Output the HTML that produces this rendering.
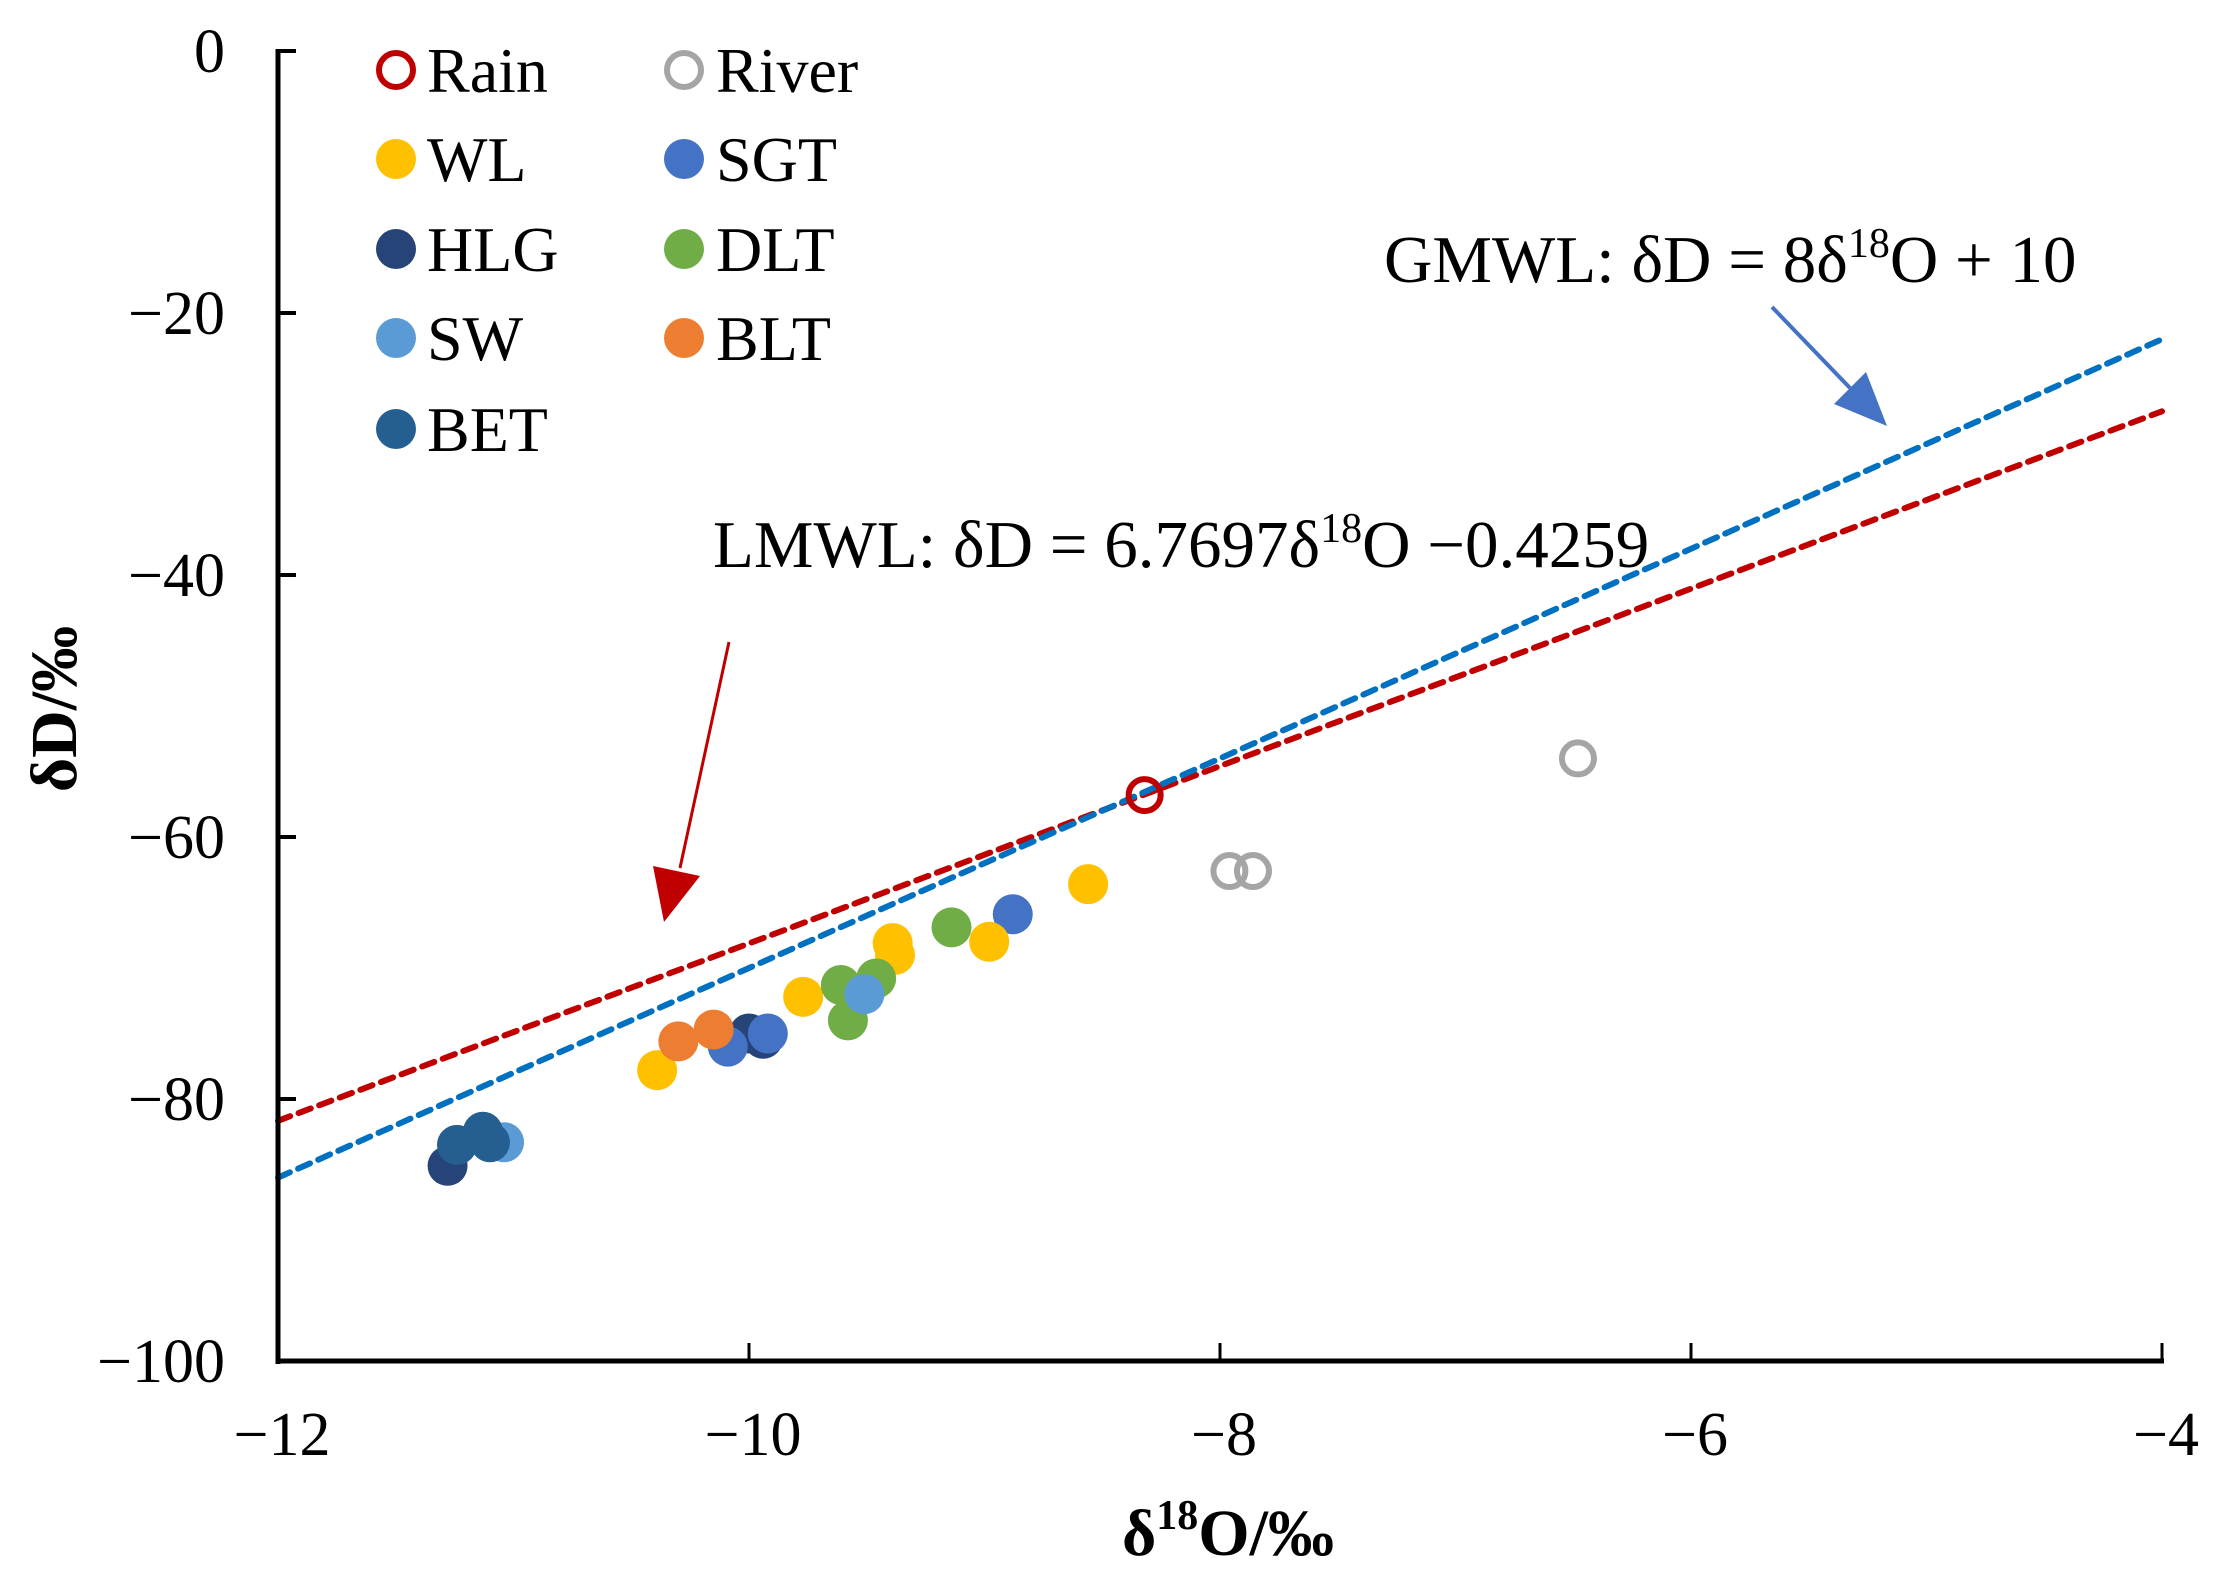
<!DOCTYPE html>
<html><head><meta charset="utf-8"><style>
html,body{margin:0;padding:0;background:#fff;}
svg{display:block;font-family:"Liberation Serif","Times New Roman",serif;}
</style></head><body>
<svg id="chart" width="2226" height="1584" viewBox="0 0 2226 1584" xmlns="http://www.w3.org/2000/svg"></svg>
<script>
const xTicks = [-12, -10, -8, -6, -4];
const yTicks = [0, -20, -40, -60, -80, -100];
const rainX = [-8.32];
const rainY = [-56.8];
const riverX = [-6.48, -7.96, -7.86];
const riverY = [-54.0, -62.6, -62.6];
const wlX = [-8.56, -9.39, -9.38, -8.98, -9.77, -10.39];
const wlY = [-63.6, -68.1, -69.0, -68.0, -72.2, -77.8];
const sgtX = [-8.88, -10.09, -9.92];
const sgtY = [-65.9, -76.0, -75.0];
const dltX = [-9.14, -9.61, -9.46, -9.58];
const dltY = [-66.9, -71.3, -70.8, -74.0];
const blt_X = [-10.30, -10.15];
const blt_Y = [-75.6, -74.7];
const hlgX = [-10.00, -9.94, -11.28];
const hlgY = [-75.0, -75.4, -85.1];
const swX = [-9.51, -11.04];
const swY = [-72.0, -83.3];
const betX = [-11.24, -11.13, -11.10];
const betY = [-83.5, -82.5, -83.3];
const lmwlSlope = 6.7697, lmwlIntercept = -0.4259;
const gmwlSlope = 8, gmwlIntercept = 10;

const NS = "http://www.w3.org/2000/svg";
const svg = document.getElementById('chart');
const X0 = 278, X1 = 2162, Y0 = 51, Y1 = 1361;
const xMin = -12, xMax = -4, yMin = -100, yMax = 0;
function sx(v){ return X0 + (v - xMin) / (xMax - xMin) * (X1 - X0); }
function sy(v){ return Y1 - (v - yMin) / (yMax - yMin) * (Y1 - Y0); }
function mk(tag, attrs, parent){
  const e = document.createElementNS(NS, tag);
  for (const k in attrs) e.setAttribute(k, attrs[k]);
  (parent || svg).appendChild(e);
  return e;
}
function fmt(v){ return v < 0 ? '\u2212' + Math.abs(v) : String(v); }

const lines = [[lmwlSlope, lmwlIntercept, '#c00000', 'lmwl-line'], [gmwlSlope, gmwlIntercept, '#0070c0', 'gmwl-line']];
for (const [m, b, c, name] of lines) {
  const l = mk('line', {x1: sx(xMin), y1: sy(m*xMin + b), x2: sx(xMax), y2: sy(m*xMax + b), stroke: c, 'stroke-width': 6, 'stroke-dasharray': '13 9', 'stroke-linecap': 'round'});
  
  
}

const series = [
  ['hlg', hlgX, hlgY, '#264478', false],
  ['sgt', sgtX, sgtY, '#4472c4', false],
  ['wl', wlX, wlY, '#ffc000', false],
  ['dlt', dltX, dltY, '#70ad47', false],
  ['sw', swX, swY, '#5b9bd5', false],
  ['blt', blt_X, blt_Y, '#ed7d31', false],
  ['bet', betX, betY, '#255e91', false],
  ['river', riverX, riverY, '#a5a5a5', true],
  ['rain', rainX, rainY, '#c00000', true]
];
for (const [name, xs, ys, c, hollow] of series) {
  for (let i = 0; i < xs.length; i++) {
    const p = hollow
      ? mk('circle', {cx: sx(xs[i]), cy: sy(ys[i]), r: 16, fill: 'none', stroke: c, 'stroke-width': 6})
      : mk('circle', {cx: sx(xs[i]), cy: sy(ys[i]), r: 20, fill: c});
    
    
  }
}

const ya = mk('line', {x1: X0, y1: Y0 - 2, x2: X0, y2: Y1 + 3, stroke: '#000', 'stroke-width': 5});


const xa = mk('line', {x1: X0 - 2, y1: Y1, x2: X1 + 2, y2: Y1, stroke: '#000', 'stroke-width': 5});


for (const t of yTicks) {
  const tk = mk('line', {x1: X0, y1: sy(t), x2: X0 + 18, y2: sy(t), stroke: '#000', 'stroke-width': 4});
  
  
  const tx = mk('text', {x: 225, y: sy(t) + 21, 'font-size': 62, 'text-anchor': 'end', fill: '#000'});
  tx.textContent = fmt(t);
  
  
}
for (const t of xTicks) {
  const tk = mk('line', {x1: sx(t), y1: Y1, x2: sx(t), y2: Y1 - 18, stroke: '#000', 'stroke-width': 3});
  
  
  const tx = mk('text', {x: sx(t) + 4, y: 1455, 'font-size': 62, 'text-anchor': 'middle', fill: '#000'});
  tx.textContent = fmt(t);
  
  
}
</script>
<script>
(function(){
  const svg = document.getElementById('chart');
  function add(html){ svg.insertAdjacentHTML('beforeend', html); }
  add('<text x="1228" y="1555" font-size="66" font-weight="bold" text-anchor="middle">δ<tspan font-size="42" dy="-26">18</tspan><tspan dy="26">O/‰</tspan></text>');
  add('<text transform="translate(76,709) rotate(-90)" font-size="66" font-weight="bold" text-anchor="middle">δD/‰</text>');
  add('<text x="1384" y="282" font-size="67">GMWL: δD = 8δ<tspan font-size="42" dy="-25">18</tspan><tspan dy="25">O + 10</tspan></text>');
  add('<text x="713" y="567" font-size="67">LMWL: δD = 6.7697δ<tspan font-size="42" dy="-25">18</tspan><tspan dy="25">O −0.4259</tspan></text>');
  add('<g><line x1="1772" y1="307" x2="1850" y2="388" stroke="#4472c4" stroke-width="4"/><polygon points="1887,426 1834,404 1866,372" fill="#4472c4"/></g>');
  add('<g><line x1="729" y1="642" x2="680" y2="868" stroke="#c00000" stroke-width="3"/><polygon points="664,922 653,866 700,876" fill="#c00000"/></g>');
  const leg = [
    ['Rain','#c00000',true,396,427,70],['River','#a5a5a5',true,684,716,70],
    ['WL','#ffc000',false,396,427,159],['SGT','#4472c4',false,684,716,159],
    ['HLG','#264478',false,396,427,249],['DLT','#70ad47',false,684,716,249],
    ['SW','#5b9bd5',false,396,427,338],['BLT','#ed7d31',false,684,716,338],
    ['BET','#255e91',false,396,427,429]
  ];
  let s = '<g>';
  for (const [n,c,h,mx,tx,y] of leg) {
    s += '<g>';
    s += h ? '<circle cx="'+mx+'" cy="'+y+'" r="17" fill="none" stroke="'+c+'" stroke-width="6"/>'
           : '<circle cx="'+mx+'" cy="'+y+'" r="20" fill="'+c+'"/>';
    s += '<text x="'+tx+'" y="'+(y+22)+'" font-size="64">'+n+'</text></g>';
  }
  s += '</g>';
  add(s);
})();
</script>
</body></html>
